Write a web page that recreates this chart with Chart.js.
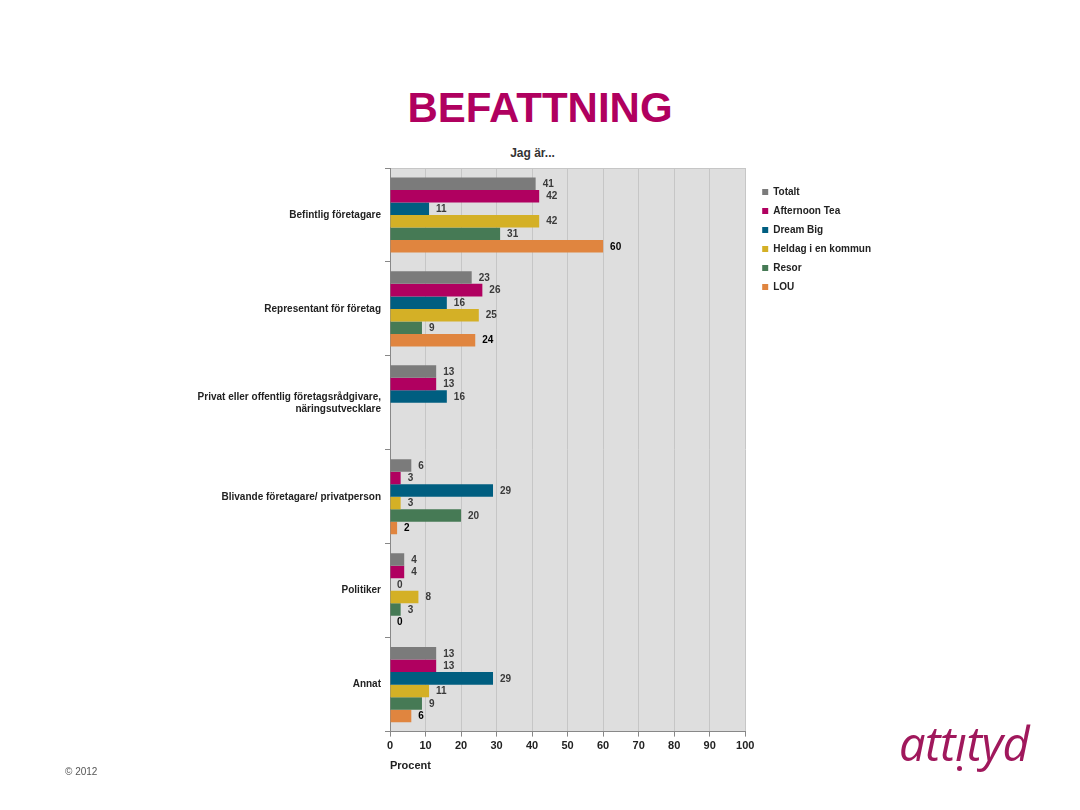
<!DOCTYPE html>
<html>
<head>
<meta charset="utf-8">
<script src="https://cdn.jsdelivr.net/npm/chart.js@4"></script>
<style>
  html, body { margin: 0; padding: 0; background: #fff; }
  body { width: 1080px; height: 810px; position: relative; overflow: hidden; font-family: Arial, "Liberation Sans", sans-serif; }
  #title { position: absolute; left: 0; top: 87px; width: 1080px; text-align: center; font-size: 42px; line-height: 42px; font-weight: bold; color: #b0005f; }
  #sub { position: absolute; left: 0; top: 147px; width: 1065px; text-align: center; font-size: 12px; line-height: 12px; font-weight: bold; color: #333; }
  #wrap { position: absolute; left: 0; top: 158px; width: 900px; height: 620px; }
  #copy { position: absolute; left: 65px; top: 766px; font-size: 10px; line-height: 12px; color: #555; }
  #logo { position: absolute; left: 899px; top: 717px; font-family: "Open Sans", sans-serif; font-style: italic; font-size: 47px; line-height: 52px; color: #a0185c; letter-spacing: -0.5px; }
  #logo .ii { position: relative; }
  #logo .ii::after { content: ""; position: absolute; left: 50%; bottom: 4px; width: 5px; height: 5px; margin-left: -4px; border-radius: 50%; background: #a0185c; }
</style>
</head>
<body>
<div id="title">BEFATTNING</div>
<div id="sub">Jag är...</div>
<div id="wrap"><canvas id="myChart"></canvas></div>
<div id="copy">© 2012</div>
<div id="logo">att<span class="ii">ı</span>tyd</div>
<script>
  const categories = [
    "Befintlig företagare",
    "Representant för företag",
    ["Privat eller offentlig företagsrådgivare,", "näringsutvecklare"],
    "Blivande företagare/ privatperson",
    "Politiker",
    "Annat"
  ];
  const totalt = [41, 23, 13, 6, 4, 13];
  const afternoonTea = [42, 26, 13, 3, 4, 13];
  const dreamBig = [11, 16, 16, 29, 0, 29];
  const heldag = [42, 25, null, 3, 8, 11];
  const resor = [31, 9, null, 20, 3, 9];
  const lou = [60, 24, null, 2, 0, 6];
  const xTicks = [0, 10, 20, 30, 40, 50, 60, 70, 80, 90, 100];

  const plotBackground = {
    id: "plotBackground",
    beforeDraw(chart) {
      const { ctx, chartArea: a } = chart;
      ctx.save();
      ctx.fillStyle = "#dedede";
      ctx.fillRect(a.left, a.top, a.right - a.left, a.bottom - a.top);
      ctx.strokeStyle = "#c6c6c6";
      ctx.lineWidth = 1;
      ctx.beginPath();
      ctx.moveTo(a.left, a.top + 0.5);
      ctx.lineTo(a.right, a.top + 0.5);
      ctx.stroke();
      ctx.restore();
    }
  };

  // value labels next to each bar
  const barLabels = {
    id: "barLabels",
    afterDatasetsDraw(chart) {
      const ctx = chart.ctx;
      ctx.save();
      ctx.font = "bold 10px Arial";
      ctx.textBaseline = "middle";
      ctx.textAlign = "left";
      chart.data.datasets.forEach((ds, i) => {
        const meta = chart.getDatasetMeta(i);
        meta.data.forEach((bar, j) => {
          const v = ds.data[j];
          if (v === null || v === undefined) return;
          ctx.fillStyle = i === 5 ? "#000" : "#3a3a3a";
          ctx.fillText(String(v), bar.x + 7, bar.y + 0.5);
        });
      });
      ctx.restore();
    }
  };

  // nudge the legend into place
  const legendShift = {
    id: "legendShift",
    afterLayout(chart) {
      const lg = chart.legend;
      if (!lg) return;
      lg.left += 8; lg.right += 8;
      lg.top += 20; lg.bottom += 20;
    }
  };

  new Chart(document.getElementById("myChart"), {
    type: "bar",
    data: {
      labels: categories,
      datasets: [
        { label: "Totalt", data: totalt, backgroundColor: "#7b7b7b" },
        { label: "Afternoon Tea", data: afternoonTea, backgroundColor: "#b00060" },
        { label: "Dream Big", data: dreamBig, backgroundColor: "#005e80" },
        { label: "Heldag i en kommun", data: heldag, backgroundColor: "#d4b026" },
        { label: "Resor", data: resor, backgroundColor: "#467a55" },
        { label: "LOU", data: lou, backgroundColor: "#e0853f" }
      ]
    },
    options: {
      indexAxis: "y",
      responsive: true,
      maintainAspectRatio: false,
      animation: false,
      categoryPercentage: 0.8,
      barPercentage: 1.0,
      layout: { padding: { top: 0, right: 27, bottom: 5, left: 0 } },
      scales: {
        x: {
          min: 0,
          max: 100,
          afterBuildTicks(scale) { scale.ticks = xTicks.map(v => ({ value: v })); },
          grid: { color: "#c6c6c6", tickColor: "#888", tickLength: 5 },
          border: { color: "#888" },
          ticks: { font: { family: "Arial", size: 11, weight: "bold" }, color: "#222", padding: 3 },
          title: {
            display: true, text: "Procent", align: "start",
            font: { family: "Arial", size: 11, weight: "bold" }, color: "#222",
            padding: { top: 4, bottom: 0 }
          }
        },
        y: {
          offset: true,
          afterFit(scale) { scale.width = 390; },
          grid: { offset: true, drawOnChartArea: false, drawTicks: true, tickLength: 5, tickColor: "#888" },
          border: { color: "#888" },
          ticks: { font: { family: "Arial", size: 10, weight: "bold" }, color: "#222", padding: 4 }
        }
      },
      plugins: {
        legend: {
          position: "right",
          align: "start",
          labels: {
            boxWidth: 6, boxHeight: 6, padding: 9,
            font: { family: "Arial", size: 10, weight: "bold" }, color: "#222"
          }
        },
        tooltip: { enabled: false }
      }
    },
    plugins: [plotBackground, barLabels, legendShift]
  });
</script>
</body>
</html>
